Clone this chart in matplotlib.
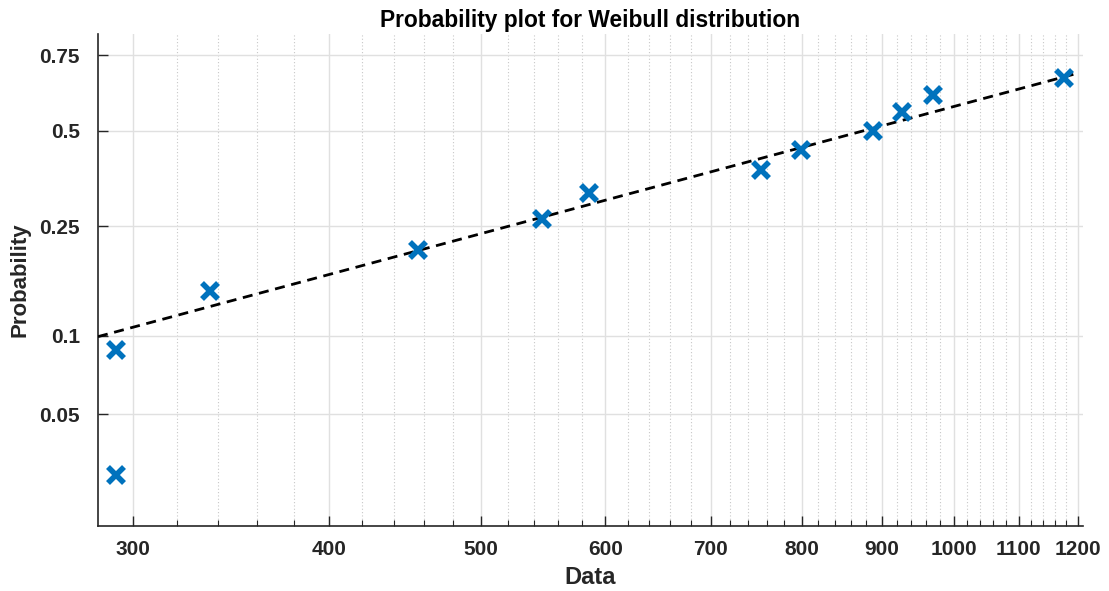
import numpy as np
import matplotlib
matplotlib.use("Agg")
import matplotlib.pyplot as plt
from matplotlib.ticker import FixedLocator, FixedFormatter, NullFormatter

# failure data (uncensored part) and plotting positions
data = [292.8, 292.8, 335.7, 455.9, 546.7, 585.8, 753.5, 799.4, 888.8, 926.6, 970.5, 1176.2]
prob = [0.029, 0.088, 0.147, 0.206, 0.265, 0.324, 0.382, 0.441, 0.500, 0.559, 0.618, 0.676]

# fitted Weibull parameters and range of the reference line
shape = 1.682
scale = 1091.0
fit_range = [285.0, 1195.0]

x_ticks = [300, 400, 500, 600, 700, 800, 900, 1000, 1100, 1200]
x_minor = [v for v in range(320, 1200, 20) if v % 100 != 0]
y_ticks = [0.05, 0.1, 0.25, 0.5, 0.75]
y_labels = ["0.05", "0.1", "0.25", "0.5", "0.75"]

dark = "#262626"
plt.rcParams["font.family"] = ["Liberation Sans", "DejaVu Sans"]
plt.rcParams["font.weight"] = "bold"


def wbl_fwd(p):
    p = np.clip(p, 1e-9, 1 - 1e-9)
    return np.log(-np.log(1 - p))


def wbl_inv(y):
    return 1 - np.exp(-np.exp(y))


fig = plt.figure(figsize=(11.09, 5.91), dpi=100)
ax = fig.add_axes([98 / 1109, 65 / 591, 985 / 1109, 492 / 591])

ax.set_xscale("log")
ax.set_yscale("function", functions=(wbl_fwd, wbl_inv))
ax.set_xlim(285, 1209)
ax.set_ylim(0.01823, 0.8138)

# reference line from the fit
xf = np.array(fit_range)
pf = 1 - np.exp(-(xf / scale) ** shape)
ax.plot(xf, pf, color="black", ls=(0, (3.6, 2.4)), lw=2.0, zorder=3)

ax.plot(data, prob, ls="none", marker="x", ms=11, mew=4.0, color="#0072BD", zorder=4)

ax.xaxis.set_major_locator(FixedLocator(x_ticks))
ax.xaxis.set_minor_locator(FixedLocator(x_minor))
ax.xaxis.set_major_formatter(FixedFormatter([str(v) for v in x_ticks]))
ax.xaxis.set_minor_formatter(NullFormatter())
ax.yaxis.set_major_locator(FixedLocator(y_ticks))
ax.yaxis.set_major_formatter(FixedFormatter(y_labels))
ax.yaxis.set_minor_locator(FixedLocator([]))

ax.grid(True, which="major", color="#e0e0e0", lw=1.0, ls="-")
ax.grid(True, which="minor", axis="x", color="#c8c8c8", lw=0.8, ls=(0, (1, 2)))
ax.set_axisbelow(True)

for s in ["top", "right"]:
    ax.spines[s].set_visible(False)
for s in ["left", "bottom"]:
    ax.spines[s].set_color(dark)
    ax.spines[s].set_linewidth(1.2)

ax.tick_params(axis="both", which="major", direction="in", length=7, width=1.0,
               colors=dark, labelsize=15)
ax.tick_params(axis="y", which="major", pad=13)
ax.tick_params(axis="x", which="major", pad=10)
ax.tick_params(axis="x", which="minor", direction="in", length=4, width=0.8, colors=dark)
for lbl in ax.get_xticklabels() + ax.get_yticklabels():
    lbl.set_fontweight("bold")

ax.set_xlabel("Data", fontsize=17, fontweight="bold", color=dark, va="center")
ax.set_ylabel("Probability", fontsize=16, fontweight="bold", color=dark, va="center")
ax.xaxis.set_label_coords(0.5, -0.1037)
ax.yaxis.set_label_coords(-0.079, 0.5)
ax.set_title("Probability plot for Weibull distribution", fontsize=16.4,
             fontweight="bold", color="black", pad=5)

fig.savefig("out.png", dpi=100, facecolor="white")
